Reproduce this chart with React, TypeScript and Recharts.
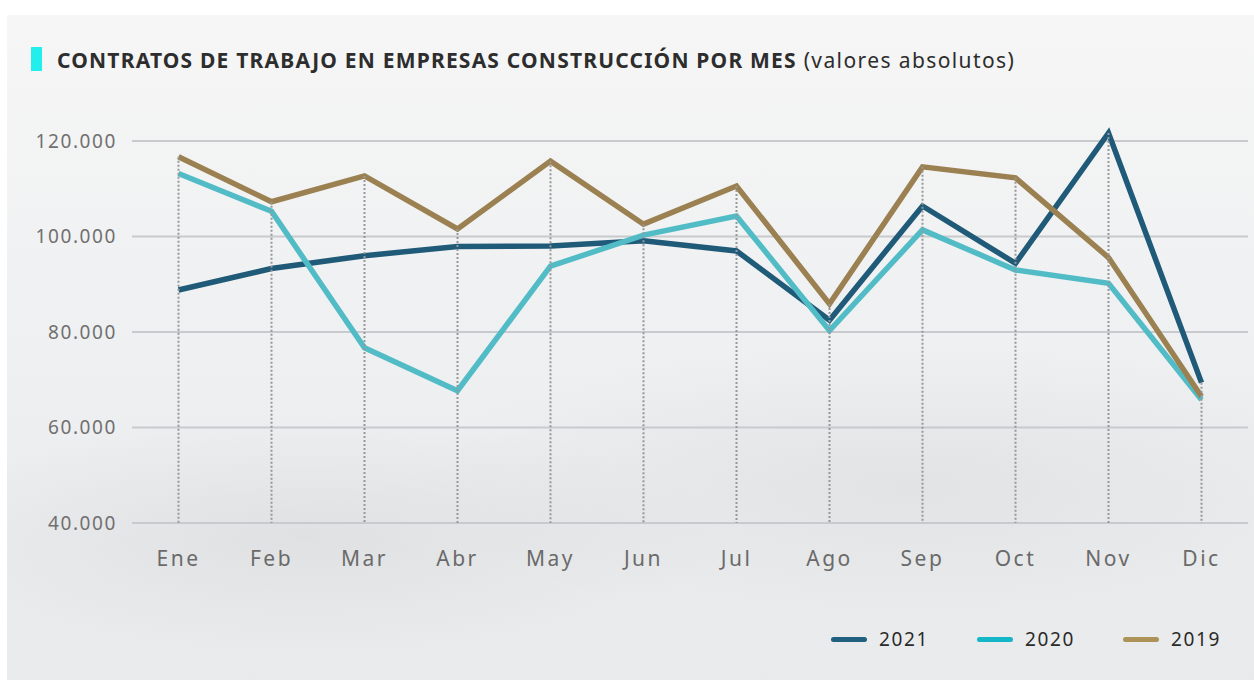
import { LineChart, Line, XAxis, YAxis, CartesianGrid, ReferenceLine } from "recharts";

const months = ["Ene", "Feb", "Mar", "Abr", "May", "Jun", "Jul", "Ago", "Sep", "Oct", "Nov", "Dic"];
const values2021 = [88800, 93300, 96000, 97900, 98000, 99100, 97000, 82500, 106400, 94400, 121700, 69400];
const values2020 = [113200, 105300, 76700, 67700, 93800, 100300, 104300, 80300, 101400, 93000, 90200, 65800];
const values2019 = [116700, 107300, 112700, 101600, 115800, 102600, 110600, 85900, 114600, 112300, 95600, 66500];
const yTicks = [40000, 60000, 80000, 100000, 120000];

const series = [
  { key: "y2021", name: "2021", color: "#1f5a78", legendColor: "#22607f" },
  { key: "y2020", name: "2020", color: "#52bcc6", legendColor: "#14b6c8" },
  { key: "y2019", name: "2019", color: "#9b8151", legendColor: "#ad9358" },
];

const chartData = months.map((m, i) => ({
  month: m,
  y2021: values2021[i],
  y2020: values2020[i],
  y2019: values2019[i],
}));

const fmt = (v: number) => v.toLocaleString("de-DE");

const font = "'Noto Sans', 'Open Sans', sans-serif";

export default function App() {
  return (
    <div
      style={{
        position: "absolute",
        left: 0,
        top: 0,
        width: 1254,
        height: 680,
        background: "#ffffff",
        fontFamily: font,
        overflow: "hidden",
      }}
    >
      <div
        style={{
          position: "absolute",
          left: 7,
          top: 15,
          right: 0,
          bottom: 0,
          background:
            "radial-gradient(ellipse 420px 120px at 300px 520px, rgba(200,202,205,0.35), transparent), radial-gradient(ellipse 500px 140px at 900px 470px, rgba(205,207,210,0.35), transparent), linear-gradient(180deg, #f6f6f6 0%, #f0f1f2 40%, #e9eaeb 100%)",
        }}
      />
      <div
        style={{
          position: "absolute",
          left: 31,
          top: 47,
          width: 11,
          height: 24,
          background: "#22eeee",
        }}
      />
      <div
        style={{
          position: "absolute",
          left: 57,
          top: 45,
          fontSize: 21,
          color: "#2d2d2d",
          whiteSpace: "nowrap",
          lineHeight: "30px",
        }}
      >
        <span style={{ fontWeight: 700, letterSpacing: 1.2 }}>CONTRATOS DE TRABAJO EN EMPRESAS CONSTRUCCIÓN POR MES</span>
        <span style={{ fontWeight: 400, letterSpacing: 1.4 }}> (valores absolutos)</span>
      </div>

      <div style={{ position: "absolute", left: 0, top: 0 }}>
        <LineChart
          width={1254}
          height={600}
          data={chartData}
          margin={{ top: 122, right: 6, bottom: 37, left: 0 }}
        >
          <CartesianGrid vertical={false} horizontalValues={yTicks} stroke="#c9cacd" strokeWidth={2} />
          <XAxis
            dataKey="month"
            axisLine={false}
            tickLine={false}
            tickSize={0}
            tickMargin={28}
            height={40}
            padding={{ left: 46.5, right: 46.5 }}
            tick={{ fill: "#6a6a6a", fontSize: 21, letterSpacing: 2.5, fontFamily: font }}
          />
          <YAxis
            domain={[40000, 124000]}
            ticks={yTicks}
            width={132}
            axisLine={false}
            tickLine={false}
            tickSize={0}
            tickMargin={15}
            tickFormatter={fmt}
            tick={{ fill: "#707070", fontSize: 19, letterSpacing: 1.6, fontFamily: font }}
          />
          {series.map((s) => (
            <Line
              key={s.key}
              type="linear"
              dataKey={s.key}
              stroke={s.color}
              strokeWidth={5.5}
              dot={false}
              activeDot={false}
              isAnimationActive={false}
            />
          ))}
          {chartData.map((d) => (
            <ReferenceLine
              key={d.month}
              segment={[
                { x: d.month, y: Math.max(d.y2021, d.y2020, d.y2019) },
                { x: d.month, y: 40000 },
              ]}
              stroke="#98989b"
              strokeWidth={2}
              strokeDasharray="2 2"
            />
          ))}
        </LineChart>
      </div>

      {series.map((s, i) => (
        <div
          key={s.key}
          style={{
            position: "absolute",
            left: 831 + i * 146,
            top: 626,
            display: "flex",
            alignItems: "center",
            whiteSpace: "nowrap",
          }}
        >
          <div style={{ width: 36, height: 5, borderRadius: 3, background: s.legendColor }} />
          <span style={{ marginLeft: 12, fontSize: 19, letterSpacing: 1.6, color: "#2a2a2a", lineHeight: "26px" }}>
            {s.name}
          </span>
        </div>
      ))}
    </div>
  );
}
